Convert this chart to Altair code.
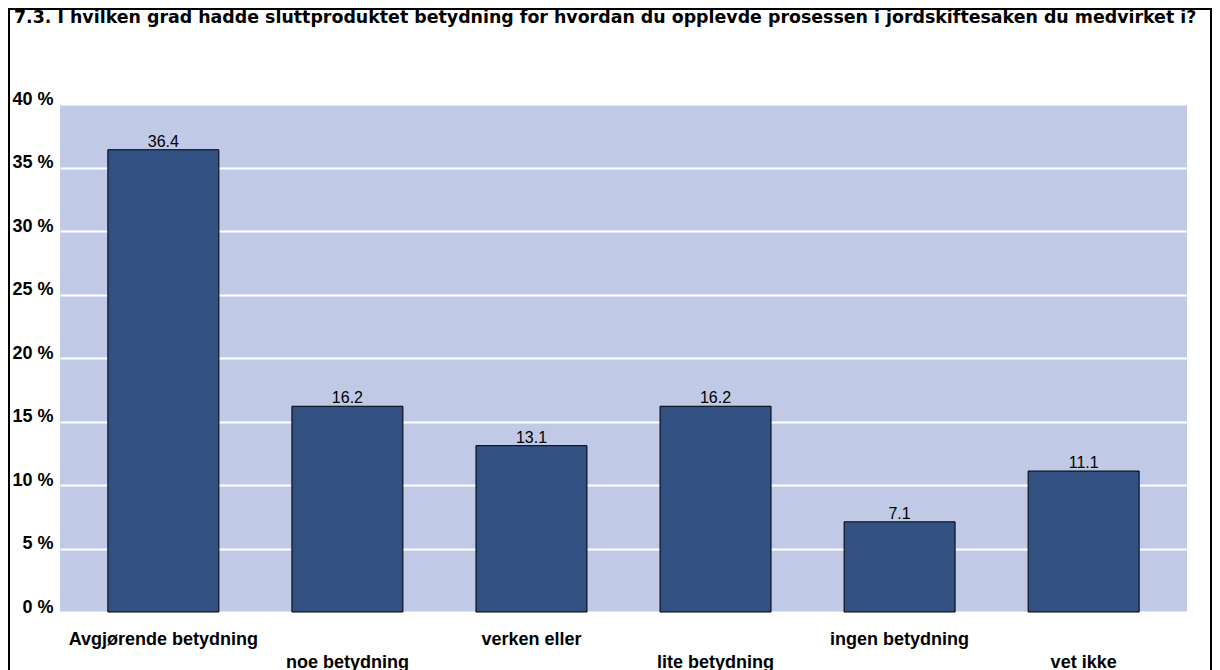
import altair as alt
import pandas as pd

categories = ["Avgjørende betydning", "noe betydning", "verken eller",
              "lite betydning", "ingen betydning", "vet ikke"]
values = [36.4, 16.2, 13.1, 16.2, 7.1, 11.1]
label_row = [0, 1, 0, 1, 0, 1]
y_ticks = [0, 5, 10, 15, 20, 25, 30, 35, 40]
title_text = ("7.3. I hvilken grad hadde sluttproduktet betydning for hvordan du "
              "opplevde prosessen i jordskiftesaken du medvirket i?")

df = pd.DataFrame({"cat": categories, "val": values, "row": label_row})

FONT = "Liberation Sans"
W, H = 1127, 508

xenc = alt.X("cat:N", sort=categories, axis=None,
             scale=alt.Scale(paddingInner=0.397, paddingOuter=0.26))

base = alt.Chart(df)

bars = base.mark_bar(color="#335082", stroke="#000000", strokeWidth=1).encode(
    x=xenc,
    y=alt.Y("val:Q", scale=alt.Scale(domain=[0, 40]),
            axis=alt.Axis(values=y_ticks, labelExpr="datum.value + ' %'", title=None,
                          grid=True, gridColor="white", gridWidth=2, gridOpacity=1,
                          domain=False, ticks=False, labelFont=FONT, labelFontSize=18,
                          labelFontWeight="bold", labelColor="black", labelPadding=7,
                          labelBaseline="alphabetic")),
)

val_labels = base.mark_text(baseline="alphabetic", dy=-3, font=FONT, fontSize=16,
                            color="black").encode(
    x=xenc, y="val:Q", text=alt.Text("val:Q", format=".1f"))

row0 = base.transform_filter("datum.row == 0").mark_text(
    font=FONT, fontSize=18, fontWeight="bold", color="black", baseline="alphabetic").encode(
    x=xenc, y=alt.value(H + 33), text="cat:N")
row1 = base.transform_filter("datum.row == 1").mark_text(
    font=FONT, fontSize=18, fontWeight="bold", color="black", baseline="alphabetic").encode(
    x=xenc, y=alt.value(H + 56), text="cat:N")

single = pd.DataFrame({"t": [title_text]})
title = alt.Chart(single).mark_text(
    font="DejaVu Sans", fontSize=17.4, fontWeight="bold", color="black",
    align="left", baseline="alphabetic").encode(
    x=alt.value(-46), y=alt.value(-81), text="t:N")

border = alt.Chart(single).mark_rect(
    filled=False, stroke="black", strokeWidth=2).encode(
    x=alt.value(-51), x2=alt.value(1151), y=alt.value(-95), y2=alt.value(620))

chart = alt.layer(bars, val_labels, row0, row1, title, border).properties(
    width=W, height=H,
    autosize=alt.AutoSizeParams(type="none"),
    padding={"left": 52, "top": 96, "right": 25, "bottom": 58},
).configure_view(fill="#C0C9E6", strokeWidth=0)

chart.save("out.html", embed_options={"renderer": "svg", "actions": False})
